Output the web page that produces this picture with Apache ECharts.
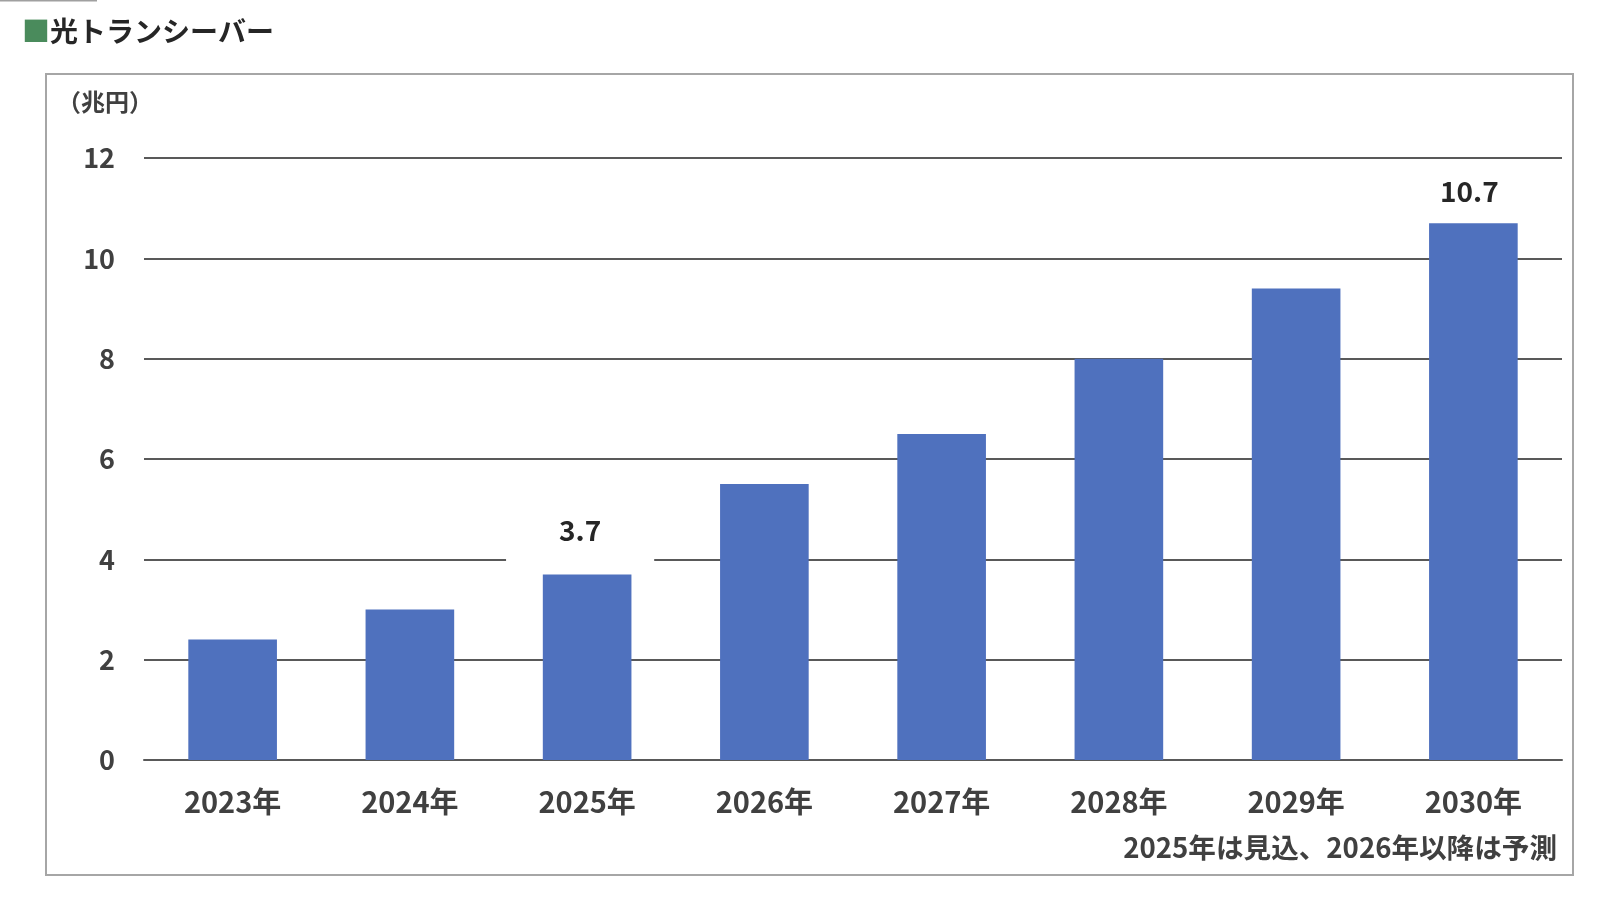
<!DOCTYPE html>
<html>
<head>
<meta charset="utf-8">
<script src="https://cdn.jsdelivr.net/npm/echarts@6/dist/echarts.min.js"></script>
<style>
  html, body { margin: 0; padding: 0; background: #fff; }
  #main { width: 1604px; height: 900px; }
</style>
</head>
<body>
<div id="main"></div>
<script>
const years = ['2023年', '2024年', '2025年', '2026年', '2027年', '2028年', '2029年', '2030年'];
const values = [2.4, 3.0, 3.7, 5.5, 6.5, 8.0, 9.4, 10.7];
const yTicks = [0, 2, 4, 6, 8, 10, 12];

const FONT = '"Noto Sans CJK JP", "Noto Sans", sans-serif';
const textGrey = '#404040';

// per-label tweaks: gap above the bar, bottom padding of the white box, sideways nudge
const labelTweaks = {
  '2025年': { distance: 11, padBottom: 19, offset: [-7, 0] },
  '2030年': { distance: 2, padBottom: 16, offset: [-4, 0] }
};

const myChart = echarts.init(document.getElementById('main'));

// white box behind the value label hides the gridline, like the original
const barData = values.map((v, i) => {
  const item = { value: v };
  const tw = labelTweaks[years[i]];
  if (tw) {
    item.label = {
      show: true,
      position: 'top',
      distance: tw.distance,
      offset: tw.offset,
      formatter: '{c}',
      fontFamily: FONT,
      fontSize: 28,
      fontWeight: 'bold',
      color: '#262626',
      backgroundColor: '#fff',
      padding: [6, 53, tw.padBottom, 53]
    };
  }
  return item;
});

const option = {
  backgroundColor: '#fff',
  animation: false,
  title: {
    left: 17,
    top: 12,
    text: '{sq|■}{t|光トランシーバー}',
    textStyle: {
      rich: {
        sq: { color: '#4a8b5c', fontSize: 28, fontFamily: FONT },
        t: { color: '#262626', fontSize: 28, fontWeight: 'bold', fontFamily: FONT }
      }
    }
  },
  graphic: [
    {
      type: 'line',
      shape: { x1: 0, y1: 0.5, x2: 97, y2: 0.5 },
      style: { stroke: '#a0a0a0', lineWidth: 2 }
    },
    {
      type: 'rect',
      shape: { x: 46, y: 74, width: 1527, height: 801 },
      style: { fill: null, stroke: '#a6a6a6', lineWidth: 2 },
      z: -1
    },
    {
      type: 'text',
      left: 57,
      top: 90,
      style: {
        text: '（兆円）',
        font: 'bold 24px ' + FONT,
        fill: textGrey
      }
    },
    {
      type: 'text',
      right: 47,
      top: 834,
      style: {
        text: '2025年は見込、2026年以降は予測',
        font: 'bold 27.6px ' + FONT,
        fill: textGrey
      }
    }
  ],
  grid: {
    left: 144,
    right: 42,
    top: 158,
    bottom: 140
  },
  xAxis: {
    type: 'category',
    data: years,
    axisLine: { lineStyle: { color: '#595959', width: 2 } },
    axisTick: { show: false },
    axisLabel: {
      margin: 27,
      fontFamily: FONT,
      fontSize: 29,
      fontWeight: 'bold',
      color: textGrey
    }
  },
  yAxis: {
    type: 'value',
    min: 0,
    max: 12,
    interval: 2,
    axisLine: { show: false },
    axisTick: { show: false },
    splitLine: { lineStyle: { color: '#595959', width: 2 } },
    axisLabel: {
      margin: 29,
      fontFamily: FONT,
      fontSize: 27,
      fontWeight: 'bold',
      color: textGrey,
      formatter: v => yTicks.includes(v) ? String(v) : ''
    }
  },
  series: [{
    type: 'bar',
    data: barData,
    barWidth: '50%',
    itemStyle: { color: '#4f71be' },
    z: 3
  }]
};

myChart.setOption(option);
</script>
</body>
</html>
